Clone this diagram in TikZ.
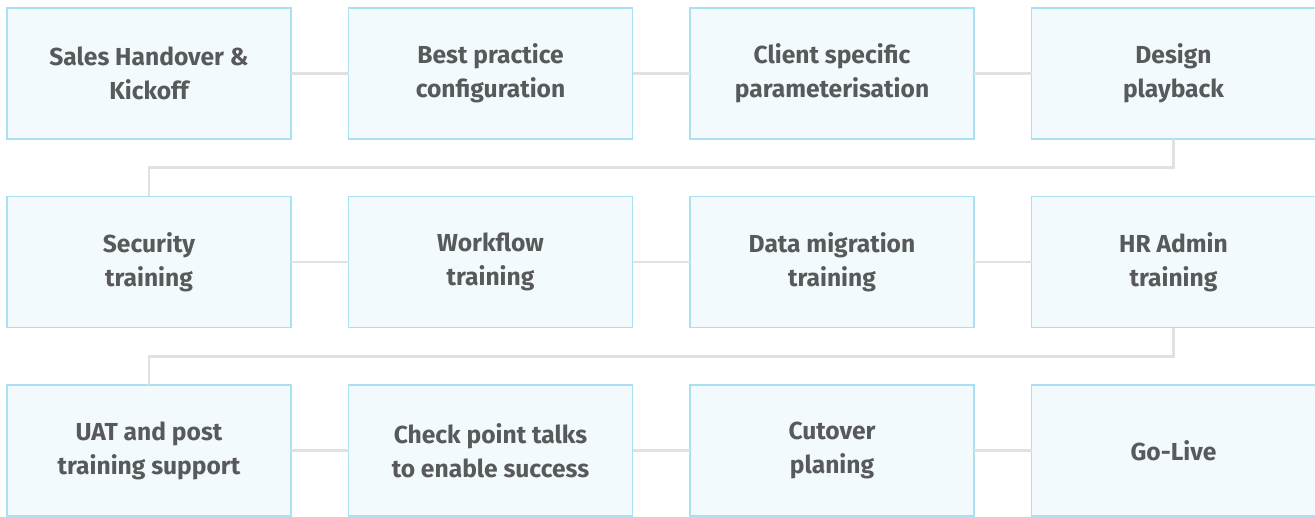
\documentclass[tikz,border=0pt]{standalone}
\usepackage{fontspec}
\setmainfont{Fira Sans}
\usepackage{tikz}
\usetikzlibrary{
    calc,
    positioning
}
\definecolor{boxfill}{HTML}{F3FAFD}
\definecolor{boxline}{HTML}{A9E0F2}
\definecolor{linkline}{HTML}{E1E1E1}
\definecolor{textgray}{HTML}{58595B}
\tikzset{
    every picture/.style = {
        node distance = 1.15cm
    },
    stage/.style = {
        draw = boxline,
        line width = 0.8pt,
        fill = boxfill,
        minimum width = 5.68cm,
        minimum height = 2.62cm,
        inner sep = 2pt,
        outer sep = 0pt,
        align = center,
        text = textgray,
        font = {\fontsize{14}{19.3}\selectfont\bfseries}
    },
    link/.style = {
        draw = linkline,
        line width = 1.7pt
    }
}

\begin{document}
\begin{tikzpicture}
    \useasboundingbox (0,0) rectangle (26.3,-10.34);
    \begin{scope}
    \clip (0,0) rectangle (26.3,-10.34);
    % first row
    \node[stage] (s1) at (2.98,-1.47) {Sales Handover \&\\Kickoff};
    \node[stage] (s2) [right = of s1] {Best practice\\configuration};
    \node[stage] (s3) [right = of s2] {Client speci{}fic\\parameterisation};
    \node[stage] (s4) [right = of s3] {Design\\playback};
    % second row
    \node[stage] (s5) [below = of s1] {Security\\training};
    \node[stage] (s6) [right = of s5] {Workflow\\training};
    \node[stage] (s7) [right = of s6] {Data migration\\training};
    \node[stage] (s8) [right = of s7] {HR Admin\\training};
    % third row
    \node[stage] (s9) [below = of s5] {UAT and post\\training support};
    \node[stage] (s10) [right = of s9] {Check point talks\\to enable success};
    \node[stage] (s11) [right = of s10] {Cutover\\planing};
    \node[stage] (s12) [right = of s11] {Go-Live};

    \foreach \a/\b in {s1/s2, s2/s3, s3/s4, s5/s6, s6/s7, s7/s8, s9/s10, s10/s11, s11/s12}
        \path[link] (\a.east) -- (\b.west);
    \path[link] (s4.south) -- ++(0,-0.575) -| (s5.north);
    \path[link] (s8.south) -- ++(0,-0.575) -| (s9.north);
    \end{scope}
\end{tikzpicture}
\end{document}
